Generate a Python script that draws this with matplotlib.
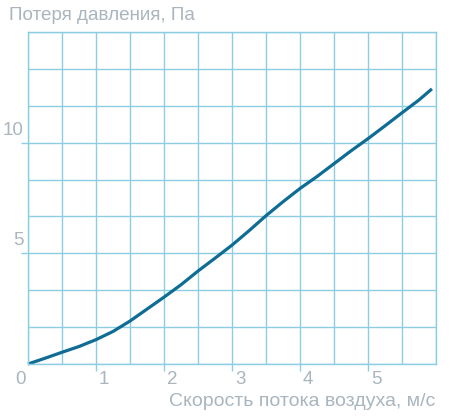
import numpy as np
import matplotlib
matplotlib.use("Agg")
import matplotlib.pyplot as plt
from matplotlib.transforms import offset_copy, blended_transform_factory

# Data
speed = [0, 0.25, 0.5, 0.75, 1.0, 1.25, 1.5, 1.75, 2.0, 2.25, 2.5, 2.75, 3.0,
         3.25, 3.5, 3.75, 4.0, 4.25, 4.5, 4.75, 5.0, 5.25, 5.5, 5.75, 5.94]
pressure = [0, 0.26, 0.53, 0.79, 1.1, 1.47, 1.94, 2.48, 3.02, 3.58, 4.2, 4.78, 5.37,
            6.02, 6.7, 7.33, 7.93, 8.47, 9.05, 9.63, 10.18, 10.76, 11.35, 11.93, 12.43]
x_tick_values = [1, 2, 3, 4, 5]
y_tick_values = [5, 10]
title_text = "Потеря давления, Па"
xlabel_text = "Скорость потока воздуха, м/с"

GRID = "#8ccde3"
LINE = "#0f6c94"
TEXT = "#a9b5bf"

plt.rcParams['font.family'] = ['Liberation Sans', 'DejaVu Sans']

fig = plt.figure(figsize=(4.5, 4.17), dpi=100)
W, H = 450, 417
ax = fig.add_axes([28/W, (H-364)/H, (436-28)/W, (364-32)/H])
ax.set_xlim(0, 6)
ax.set_ylim(0, 15)

ax.set_xticks(np.arange(0, 6.01, 0.5), minor=True)
ax.set_yticks(np.linspace(0, 15, 10), minor=True)
ax.set_xticks(x_tick_values)
ax.set_yticks(y_tick_values)
ax.set_xticklabels([])
ax.set_yticklabels([])
ax.tick_params(which='minor', length=0)
ax.tick_params(which='major', length=5, width=1.0, color=GRID, direction='out')
ax.grid(True, which='both', color=GRID, linewidth=1.0)
ax.set_axisbelow(True)
for s in ax.spines.values():
    s.set_color(GRID)
    s.set_linewidth(1.0)

ax.plot(speed, pressure, color=LINE, linewidth=2.3, solid_capstyle='butt',
        solid_joinstyle='round', clip_on=False)

fs = 13.5
# x tick labels (to the right of ticks)
tx = blended_transform_factory(ax.transData, ax.transAxes)
for v in x_tick_values:
    ax.text(v, 0, str(v), transform=offset_copy(tx, fig=fig, x=3, y=-15, units='dots'),
            ha='left', va='center', fontsize=fs, color=TEXT)
# zero label at the corner
ax.text(0, 0, "0", transform=offset_copy(ax.transData, fig=fig, x=-8, y=-15, units='dots'),
        ha='center', va='center', fontsize=fs, color=TEXT)
# y tick labels (above ticks)
ty = blended_transform_factory(ax.transAxes, ax.transData)
for v in y_tick_values:
    ax.text(0, v, str(v), transform=offset_copy(ty, fig=fig, x=-4, y=4, units='dots'),
            ha='right', va='bottom', fontsize=fs, color=TEXT)

fig.text(9/W, 1-16/H, title_text, ha='left', va='center', fontsize=13.6, color=TEXT)
fig.text(435/W, 1-402/H, xlabel_text, ha='right', va='center', fontsize=14.0, color=TEXT)

fig.savefig("out.png", dpi=100)
